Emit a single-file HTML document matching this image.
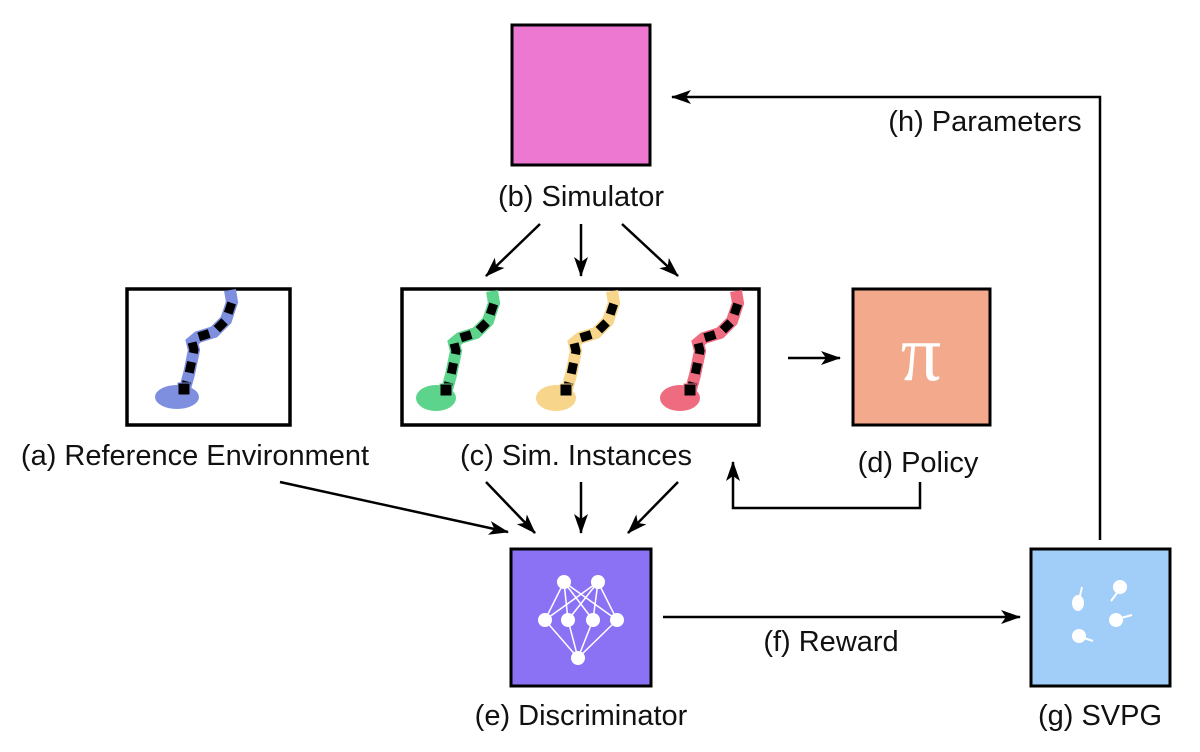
<!DOCTYPE html>
<html><head><meta charset="utf-8"><style>
html,body{margin:0;padding:0;background:#fff;}
svg{display:block;}
text{font-family:"Liberation Sans",sans-serif;font-size:29px;fill:#111;}
</style></head><body>
<svg width="1200" height="752" viewBox="0 0 1200 752" xmlns="http://www.w3.org/2000/svg">
<defs>
<marker id="a2" viewBox="0 0 20 14" markerWidth="20" markerHeight="14" refX="19" refY="7" orient="auto" markerUnits="userSpaceOnUse">
<path d="M0,0 L20,7 L0,14 L5,7 z" fill="#000"/>
</marker>
<g id="arm">
<polyline points="0,0 5,-18 10,-42 8,-50 14,-55 30,-60 42,-72 48,-90 46,-102" fill="none" stroke-width="12"/>
<polyline points="0,0 5,-18 10,-42 8,-50 14,-55 30,-60 42,-72 48,-90" fill="none" stroke="#000" stroke-width="9" stroke-dasharray="11 9"/>
<rect x="-6" y="-9" width="12" height="12" fill="#000"/>
</g>
</defs>

<rect x="512" y="25" width="138" height="140" fill="#ec78d2" stroke="#000" stroke-width="3"/>
<text x="581" y="206" text-anchor="middle">(b) Simulator</text>
<g stroke="#000" stroke-width="2.5" fill="none">
<line x1="540" y1="224" x2="486" y2="276" marker-end="url(#a2)"/>
<line x1="581" y1="224" x2="581" y2="276" marker-end="url(#a2)"/>
<line x1="622" y1="224" x2="678" y2="276" marker-end="url(#a2)"/>
</g>

<rect x="127" y="289" width="163" height="136" fill="#fff" stroke="#000" stroke-width="3.5"/>
<ellipse cx="177" cy="397" rx="22" ry="12" fill="#7f8fe0"/>
<g transform="translate(184,392)" stroke="#7f8fe0"><use href="#arm"/></g>

<rect x="402" y="289" width="357" height="136" fill="#fff" stroke="#000" stroke-width="3.5"/>
<ellipse cx="436" cy="398" rx="20" ry="13" fill="#5dd48b"/>
<g transform="translate(446,393)" stroke="#5dd48b"><use href="#arm"/></g>
<ellipse cx="556" cy="398" rx="20" ry="13" fill="#f7d58a"/>
<g transform="translate(566,393)" stroke="#f7d58a"><use href="#arm"/></g>
<ellipse cx="680" cy="398" rx="20" ry="13" fill="#ee6b80"/>
<g transform="translate(690,393)" stroke="#ee6b80"><use href="#arm"/></g>

<rect x="853" y="289" width="137" height="136" fill="#f2a98c" stroke="#000" stroke-width="3"/>
<text x="921" y="380" text-anchor="middle" style="font-family:'Liberation Serif',serif;font-size:80px;fill:#fff">π</text>

<text x="195" y="465" text-anchor="middle">(a) Reference Environment</text>
<text x="576" y="465" text-anchor="middle">(c) Sim. Instances</text>
<text x="918" y="472" text-anchor="middle">(d) Policy</text>

<g stroke="#000" stroke-width="2.5" fill="none">
<line x1="788" y1="358" x2="840" y2="358" marker-end="url(#a2)"/>
<polyline points="920,482 920,508 733,508 733,462" marker-end="url(#a2)"/>
<line x1="280" y1="482" x2="508" y2="532" marker-end="url(#a2)"/>
<line x1="486" y1="482" x2="535" y2="533" marker-end="url(#a2)"/>
<line x1="581" y1="482" x2="581" y2="533" marker-end="url(#a2)"/>
<line x1="678" y1="482" x2="628" y2="533" marker-end="url(#a2)"/>
<line x1="663" y1="617" x2="1020" y2="617" marker-end="url(#a2)"/>
<polyline points="1100,540 1100,97 672,97" marker-end="url(#a2)"/>
</g>

<rect x="511" y="549" width="140" height="137" fill="#8b72f5" stroke="#000" stroke-width="3"/>
<g stroke="#fff" stroke-width="1.5">
<line x1="564" y1="582" x2="545" y2="620"/><line x1="564" y1="582" x2="568" y2="620"/><line x1="564" y1="582" x2="593" y2="620"/><line x1="564" y1="582" x2="617" y2="620"/>
<line x1="598" y1="582" x2="545" y2="620"/><line x1="598" y1="582" x2="568" y2="620"/><line x1="598" y1="582" x2="593" y2="620"/><line x1="598" y1="582" x2="617" y2="620"/>
<line x1="545" y1="620" x2="578" y2="658"/><line x1="568" y1="620" x2="578" y2="658"/><line x1="593" y1="620" x2="578" y2="658"/><line x1="617" y1="620" x2="578" y2="658"/>
</g>
<g fill="#fff">
<circle cx="564" cy="582" r="7"/><circle cx="598" cy="582" r="7"/>
<circle cx="545" cy="620" r="7"/><circle cx="568" cy="620" r="7"/><circle cx="593" cy="620" r="7"/><circle cx="617" cy="620" r="7"/>
<circle cx="578" cy="658" r="7"/>
</g>
<text x="581" y="725" text-anchor="middle">(e) Discriminator</text>
<text x="831" y="651" text-anchor="middle">(f) Reward</text>

<rect x="1031" y="549" width="139" height="137" fill="#a0cef8" stroke="#000" stroke-width="3"/>
<g fill="#fff" stroke="#fff" stroke-width="2">
<ellipse cx="1078" cy="603" rx="5" ry="7"/><line x1="1080" y1="596" x2="1082" y2="587"/>
<circle cx="1120" cy="587" r="6"/><line x1="1117" y1="593" x2="1111" y2="601"/>
<circle cx="1116" cy="620" r="6"/><line x1="1121" y1="618" x2="1132" y2="615"/>
<circle cx="1079" cy="636" r="6"/><line x1="1084" y1="638" x2="1093" y2="641"/>
</g>
<text x="1100" y="725" text-anchor="middle">(g) SVPG</text>
<text x="985" y="131" text-anchor="middle">(h) Parameters</text>
</svg>
</body></html>
